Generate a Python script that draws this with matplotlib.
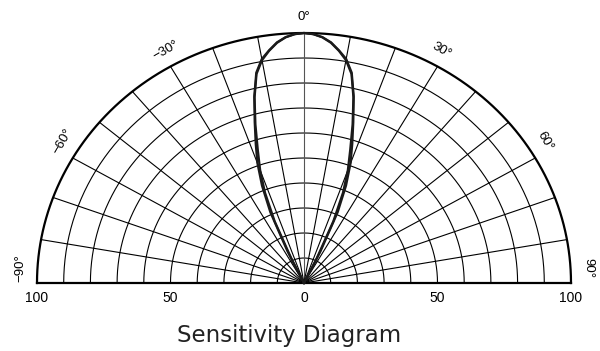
import numpy as np
import matplotlib
matplotlib.use('Agg')
import matplotlib.pyplot as plt

# relative sensitivity (%) vs. angle (deg), two measured strands
angles = [-90, -28, -26, -24, -22, -20, -18, -16, -14, -12, -10, -8, -6, -4, -2,
          0, 2, 4, 6, 8, 10, 12, 14, 16, 18, 20, 22, 24, 26, 28, 90]
sens_a = [0, 0, 14, 31, 42, 51, 58.5, 67, 77, 86, 91, 94, 96.8, 98.6, 99.6,
          100, 99.6, 98.6, 96.8, 94, 91, 86, 77, 67, 58.5, 51, 42, 31, 14, 0, 0]
sens_b = [0, 0, 10, 27, 39, 48, 56, 66, 76.5, 85.5, 90.5, 93.8, 96.6, 98.5, 99.6,
          100, 99.6, 98.5, 96.6, 93.8, 90.5, 85.5, 76.5, 66, 56, 48, 39, 27, 10, 0, 0]

angle_labels = [-90, -60, -30, 0, 30, 60, 90]
r_ticks = [100, 50, 0, 50, 100]
r_tick_pos = [-100, -50, 0, 50, 100]

fig = plt.figure(figsize=(6, 3.51), dpi=100)
ax = fig.add_axes([37/600, (351-283)/351, 534/600, 250/351])
ax.set_xlim(-100, 100)
ax.set_ylim(0, 100)
ax.axis('off')

th = np.radians(np.linspace(-90, 90, 361))
# grid circles
for r in range(10, 101, 10):
    lw = 1.6 if r == 100 else 0.8
    ax.plot(r*np.sin(th), r*np.cos(th), color='black', lw=lw, clip_on=False)
# spokes
for a in range(-80, 81, 10):
    t = np.radians(a)
    col = '#555555' if a == 0 else 'black'
    ax.plot([0, 100*np.sin(t)], [0, 100*np.cos(t)], color=col, lw=0.8, clip_on=False)
ax.plot([-100, 100], [0, 0], color='black', lw=1.6, clip_on=False)

# sensitivity curves
for s in (sens_a, sens_b):
    t = np.radians(angles)
    s = np.array(s)
    ax.plot(s*np.sin(t), s*np.cos(t), color='#1a1a1a', lw=1.6, clip_on=False)

# angle labels
for a in angle_labels:
    t = np.radians(a*0.965)
    r = 106.5
    ax.text(r*np.sin(t), r*np.cos(t), f"{a}°".replace('-', '\u2212'), rotation=-a,
            ha='center', va='center', fontsize=9.5, family='Liberation Sans',
            rotation_mode='anchor', clip_on=False)

# radial labels
for p, v in zip(r_tick_pos, r_ticks):
    ax.text(p, -6, str(v), ha='center', va='center', fontsize=10,
            family='Liberation Sans', clip_on=False)

fig.text(289/600, 1 - 342/351, 'Sensitivity Diagram', ha='center', va='baseline',
         fontsize=16.5, color='#222222', family='DejaVu Sans')

fig.savefig('out.png', dpi=100)
